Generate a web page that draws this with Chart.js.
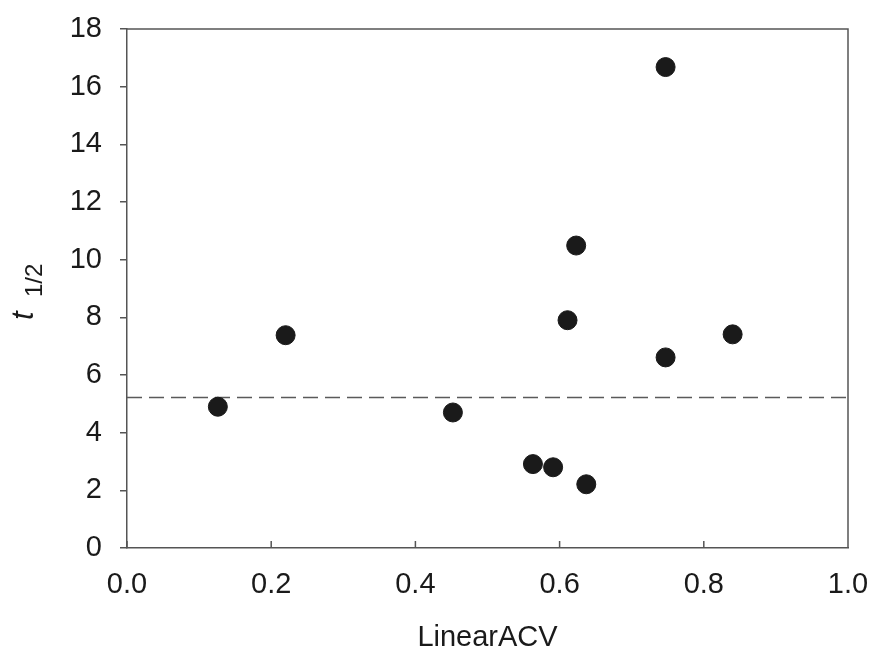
<!DOCTYPE html>
<html>
<head>
<meta charset="utf-8">
<script src="https://cdn.jsdelivr.net/npm/chart.js@4/dist/chart.umd.min.js"></script>
<style>
  html, body { margin: 0; padding: 0; background: #fff; }
  #wrap { width: 875px; height: 652px; }
</style>
</head>
<body>
<div id="wrap"><canvas id="scatterChart" width="875" height="652"></canvas></div>
<script>
// values
const linearAcv = [0.126, 0.220, 0.452, 0.563, 0.591, 0.637, 0.611, 0.623, 0.747, 0.747, 0.840];
const halfLife  = [4.90, 7.38, 4.70, 2.91, 2.80, 2.21, 7.90, 10.49, 6.61, 16.68, 7.41];
const refLineX  = [0, 1];
const refLineY  = [5.22, 5.22];
const xTicks = [0, 0.2, 0.4, 0.6, 0.8, 1.0];
const yTicks = [0, 2, 4, 6, 8, 10, 12, 14, 16, 18];

const FONT = '"Liberation Sans", Arial, sans-serif';
const AXIS = '#555';
const INK = '#1a1a1a';

// frame on top/right, inward x ticks, and the t1/2 axis label
const framePlugin = {
  id: 'frame',
  afterDraw(chart) {
    const { ctx, chartArea: a, scales } = chart;
    ctx.save();
    ctx.strokeStyle = AXIS;
    ctx.lineWidth = 1.5;
    ctx.beginPath();
    ctx.moveTo(a.left, a.top);
    ctx.lineTo(a.right, a.top);
    ctx.lineTo(a.right, a.bottom);
    xTicks.forEach(v => {
      const px = scales.x.getPixelForValue(v);
      ctx.moveTo(px, a.bottom);
      ctx.lineTo(px, a.bottom - 7);
    });
    ctx.stroke();

    // y title: italic t with subscript 1/2
    ctx.fillStyle = INK;
    ctx.translate(33, 295);
    ctx.rotate(-Math.PI / 2);
    ctx.textBaseline = 'alphabetic';
    ctx.font = 'italic 31px ' + FONT;
    ctx.fillText('t', -25, 0);
    ctx.font = '24px ' + FONT;
    ctx.fillText('1/2', -2, 9);
    ctx.restore();
  }
};

new Chart(document.getElementById('scatterChart'), {
  type: 'scatter',
  data: {
    datasets: [
      {
        label: 't1/2',
        data: linearAcv.map((x, i) => ({ x: x, y: halfLife[i] })),
        backgroundColor: INK,
        borderColor: INK,
        pointRadius: 9.5,
        pointHoverRadius: 9.5,
        order: 1
      },
      {
        type: 'line',
        label: 'reference',
        data: refLineX.map((x, i) => ({ x: x, y: refLineY[i] })),
        borderColor: '#5a5a5a',
        borderWidth: 1.5,
        borderDash: [15, 7],
        pointRadius: 0,
        fill: false,
        order: 2
      }
    ]
  },
  options: {
    responsive: false,
    animation: false,
    layout: { padding: 0 },
    plugins: {
      legend: { display: false },
      tooltip: { enabled: false }
    },
    scales: {
      x: {
        type: 'linear',
        min: 0,
        max: 1,
        afterFit: s => { s.height = 104; s.paddingLeft = 0; s.paddingRight = 27; },
        afterBuildTicks: s => { s.ticks = xTicks.map(v => ({ value: v })); },
        grid: { display: false },
        border: { display: true, color: AXIS, width: 1.5 },
        ticks: {
          padding: 12,
          color: INK,
          font: { family: FONT, size: 29 },
          callback: v => Number(v).toFixed(1)
        },
        title: {
          display: true,
          text: 'LinearACV',
          color: INK,
          font: { family: FONT, size: 29, lineHeight: 1 },
          padding: { top: 0, bottom: 0 }
        }
      },
      y: {
        type: 'linear',
        min: 0,
        max: 18,
        afterFit: s => { s.width = 127; s.paddingTop = 29; s.paddingBottom = 0; },
        afterBuildTicks: s => { s.ticks = yTicks.map(v => ({ value: v })); },
        grid: {
          display: true,
          drawOnChartArea: false,
          drawTicks: true,
          tickLength: 7,
          color: AXIS,
          lineWidth: 1.5
        },
        border: { display: true, color: AXIS, width: 1.5 },
        ticks: {
          padding: 18,
          color: INK,
          font: { family: FONT, size: 29 }
        }
      }
    }
  },
  plugins: [framePlugin]
});
</script>
</body>
</html>
